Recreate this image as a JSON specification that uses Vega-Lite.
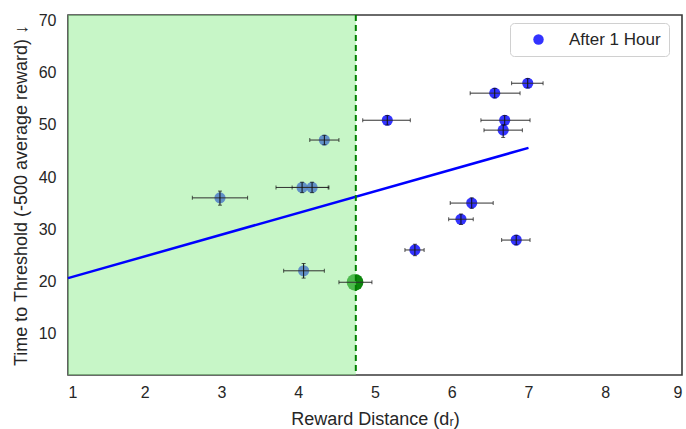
{
  "$schema": "https://vega.github.io/schema/vega-lite/v6.json",
  "width": 614,
  "height": 360,
  "autosize": "none",
  "padding": {"left": 68, "top": 15, "right": 4, "bottom": 54},
  "background": "white",
  "config": {
    "font": "Liberation Sans",
    "view": {"stroke": "#3a3a3a", "strokeWidth": 1.6},
    "axis": {
      "domain": false, "ticks": false, "grid": false,
      "labelFontSize": 16, "labelColor": "#262626",
      "titleFontSize": 18, "titleColor": "#262626", "titleFontWeight": "normal",
      "titleLimit": 600
    },
    "legend": {
      "labelFontSize": 17, "labelColor": "#262626",
      "strokeColor": "#d0d0d0", "fillColor": "white", "cornerRadius": 4,
      "padding": 8
    }
  },
  "datasets": {
    "pts": [
      {"x": 2.98, "y": 36.0, "xlo": 2.62, "xhi": 3.34, "ylo": 34.6, "yhi": 37.3},
      {"x": 4.05, "y": 38.0, "xlo": 3.71, "xhi": 4.39, "ylo": 37.0, "yhi": 39.0},
      {"x": 4.18, "y": 38.0, "xlo": 3.92, "xhi": 4.40, "ylo": 37.0, "yhi": 39.0},
      {"x": 4.34, "y": 47.1, "xlo": 4.15, "xhi": 4.53, "ylo": 46.2, "yhi": 48.0},
      {"x": 4.07, "y": 22.0, "xlo": 3.81, "xhi": 4.34, "ylo": 20.6, "yhi": 23.4},
      {"x": 5.16, "y": 50.9, "xlo": 4.84, "xhi": 5.46, "ylo": 50.0, "yhi": 51.8},
      {"x": 6.56, "y": 56.1, "xlo": 6.24, "xhi": 6.89, "ylo": 55.2, "yhi": 57.0},
      {"x": 6.99, "y": 58.0, "xlo": 6.78, "xhi": 7.19, "ylo": 57.1, "yhi": 58.9},
      {"x": 6.69, "y": 50.9, "xlo": 6.38, "xhi": 7.02, "ylo": 50.0, "yhi": 51.8},
      {"x": 6.67, "y": 49.0, "xlo": 6.42, "xhi": 6.92, "ylo": 47.6, "yhi": 50.0},
      {"x": 6.26, "y": 35.0, "xlo": 5.98, "xhi": 6.54, "ylo": 34.0, "yhi": 36.0},
      {"x": 6.12, "y": 31.9, "xlo": 5.96, "xhi": 6.28, "ylo": 30.9, "yhi": 32.9},
      {"x": 5.52, "y": 26.0, "xlo": 5.39, "xhi": 5.64, "ylo": 24.9, "yhi": 27.1},
      {"x": 6.84, "y": 27.9, "xlo": 6.65, "xhi": 7.02, "ylo": 27.0, "yhi": 28.8}
    ],
    "star": [
      {"x": 4.74, "y": 19.8, "xlo": 4.53, "xhi": 4.96}
    ],
    "fit": [
      {"x": 1.0, "y": 20.6},
      {"x": 7.0, "y": 45.6}
    ],
    "region": [
      {"lo": 1.0, "hi": 4.75}
    ]
  },
  "layer": [
    {
      "data": {"name": "pts"},
      "mark": {"type": "circle", "opacity": 0.8, "size": 125},
      "encoding": {
        "x": {"field": "x", "type": "quantitative", "scale": {"domain": [1, 9], "nice": false, "zero": false},
              "axis": {"values": [1,2,3,4,5,6,7,8,9], "format": "d", "labelPadding": 9, "titlePadding": 10}, "title": "Reward Distance (dᵣ)"},
        "y": {"field": "y", "type": "quantitative", "scale": {"domain": [2, 71.1], "nice": false, "zero": false},
              "axis": {"values": [10,20,30,40,50,60,70], "format": "d", "labelPadding": 12, "titlePadding": 8}, "title": "Time to Threshold (-500 average reward) ↓"},
        "color": {"datum": "After 1 Hour", "type": "nominal", "scale": {"range": ["#0000ff"]},
                  "legend": {"title": null, "orient": "none", "legendX": 442, "legendY": 8, "symbolSize": 110, "symbolOpacity": 0.8, "symbolOffset": 12, "labelOffset": 22, "symbolStrokeWidth": 0}}
      }
    },
    {
      "data": {"name": "star"},
      "mark": {"type": "circle", "opacity": 0.95, "size": 280, "color": "#008000"},
      "encoding": {
        "x": {"field": "x", "type": "quantitative", "title": "Reward Distance (dᵣ)"},
        "y": {"field": "y", "type": "quantitative", "title": "Time to Threshold (-500 average reward) ↓"}
      }
    },
    {
      "data": {"name": "region"},
      "mark": {"type": "rect", "color": "#90ee90", "opacity": 0.5},
      "encoding": {
        "x": {"field": "lo", "type": "quantitative", "title": "Reward Distance (dᵣ)"},
        "x2": {"field": "hi"}
      }
    },
    {
      "data": {"name": "pts"},
      "mark": {"type": "rule", "color": "#303030", "strokeWidth": 1},
      "encoding": {
        "x": {"field": "xlo", "type": "quantitative", "title": "Reward Distance (dᵣ)"},
        "x2": {"field": "xhi"},
        "y": {"field": "y", "type": "quantitative", "title": "Time to Threshold (-500 average reward) ↓"}
      }
    },
    {
      "data": {"name": "star"},
      "mark": {"type": "rule", "color": "#303030", "strokeWidth": 1},
      "encoding": {
        "x": {"field": "xlo", "type": "quantitative", "title": "Reward Distance (dᵣ)"},
        "x2": {"field": "xhi"},
        "y": {"field": "y", "type": "quantitative", "title": "Time to Threshold (-500 average reward) ↓"}
      }
    },
    {
      "data": {"name": "pts"},
      "mark": {"type": "rule", "color": "#101010", "strokeWidth": 1},
      "encoding": {
        "x": {"field": "x", "type": "quantitative", "title": "Reward Distance (dᵣ)"},
        "y": {"field": "ylo", "type": "quantitative", "title": "Time to Threshold (-500 average reward) ↓"},
        "y2": {"field": "yhi"}
      }
    },
    {
      "data": {"name": "pts"},
      "mark": {"type": "tick", "orient": "vertical", "color": "#101010", "size": 4, "thickness": 1},
      "encoding": {
        "x": {"field": "xlo", "type": "quantitative", "title": "Reward Distance (dᵣ)"},
        "y": {"field": "y", "type": "quantitative", "title": "Time to Threshold (-500 average reward) ↓"}
      }
    },
    {
      "data": {"name": "pts"},
      "mark": {"type": "tick", "orient": "vertical", "color": "#101010", "size": 4, "thickness": 1},
      "encoding": {
        "x": {"field": "xhi", "type": "quantitative", "title": "Reward Distance (dᵣ)"},
        "y": {"field": "y", "type": "quantitative", "title": "Time to Threshold (-500 average reward) ↓"}
      }
    },
    {
      "data": {"name": "star"},
      "mark": {"type": "tick", "orient": "vertical", "color": "#101010", "size": 4, "thickness": 1},
      "encoding": {
        "x": {"field": "xlo", "type": "quantitative", "title": "Reward Distance (dᵣ)"},
        "y": {"field": "y", "type": "quantitative", "title": "Time to Threshold (-500 average reward) ↓"}
      }
    },
    {
      "data": {"name": "star"},
      "mark": {"type": "tick", "orient": "vertical", "color": "#101010", "size": 4, "thickness": 1},
      "encoding": {
        "x": {"field": "xhi", "type": "quantitative", "title": "Reward Distance (dᵣ)"},
        "y": {"field": "y", "type": "quantitative", "title": "Time to Threshold (-500 average reward) ↓"}
      }
    },
    {
      "data": {"name": "pts"},
      "mark": {"type": "tick", "orient": "horizontal", "color": "#101010", "size": 4, "thickness": 1},
      "encoding": {
        "x": {"field": "x", "type": "quantitative", "title": "Reward Distance (dᵣ)"},
        "y": {"field": "ylo", "type": "quantitative", "title": "Time to Threshold (-500 average reward) ↓"}
      }
    },
    {
      "data": {"name": "pts"},
      "mark": {"type": "tick", "orient": "horizontal", "color": "#101010", "size": 4, "thickness": 1},
      "encoding": {
        "x": {"field": "x", "type": "quantitative", "title": "Reward Distance (dᵣ)"},
        "y": {"field": "yhi", "type": "quantitative", "title": "Time to Threshold (-500 average reward) ↓"}
      }
    },
    {
      "data": {"name": "fit"},
      "mark": {"type": "line", "color": "#0000ff", "strokeWidth": 2.5},
      "encoding": {
        "x": {"field": "x", "type": "quantitative", "title": "Reward Distance (dᵣ)"},
        "y": {"field": "y", "type": "quantitative", "title": "Time to Threshold (-500 average reward) ↓"}
      }
    },
    {
      "data": {"name": "region"},
      "mark": {"type": "rule", "color": "#008000", "strokeWidth": 2, "strokeDash": [6, 4]},
      "encoding": {
        "x": {"field": "hi", "type": "quantitative", "title": "Reward Distance (dᵣ)"}
      }
    }
  ]
}
